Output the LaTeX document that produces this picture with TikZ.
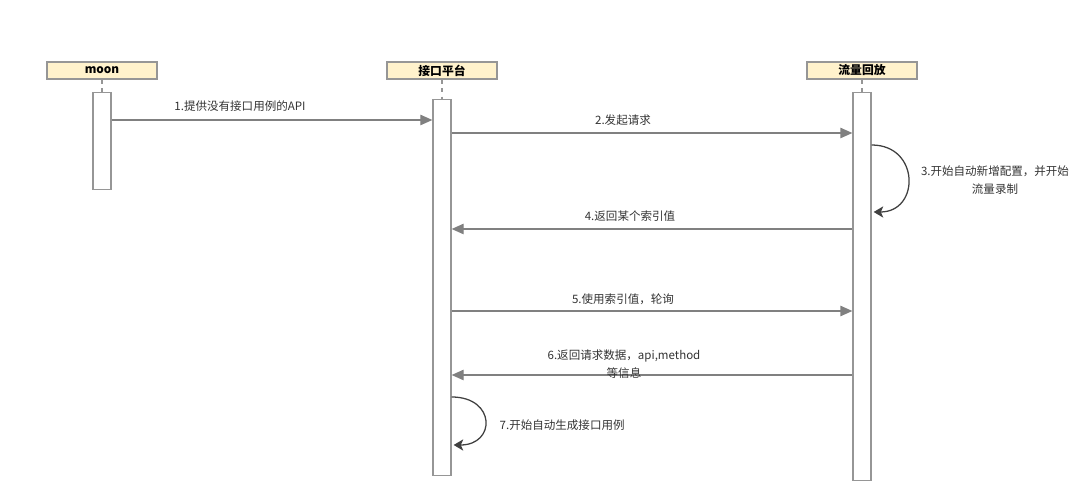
\documentclass[tikz,border=0pt]{standalone}
\usepackage{fontspec}
\setmainfont{Noto Sans CJK SC}
\usetikzlibrary{arrows.meta,positioning,calc}
\definecolor{hdr}{RGB}{255,242,204}
\definecolor{ln}{RGB}{128,128,128}
\definecolor{bx}{RGB}{150,150,150}
\tikzset{
  every node/.style={font=\fontsize{8.2}{13}\selectfont},
  head/.style={draw=bx, fill=hdr, line width=0.9pt, minimum width=2.75cm, minimum height=0.425cm, inner sep=0pt, font=\fontsize{8.4}{10}\selectfont\bfseries},
  act/.style={draw=bx, fill=white, line width=0.9pt, minimum width=0.45cm, inner sep=0pt},
  life/.style={draw=bx, dashed, line width=0.8pt},
  msg/.style={-{Triangle[length=3mm, width=2.6mm]}, ln, line width=0.9pt},
  self/.style={-{Stealth[length=2.4mm, width=2.8mm, inset=0.6mm]}, black!75, line width=0.9pt},
  lab/.style={text=black!80, inner sep=1pt, align=center},
}

\begin{document}
\begin{tikzpicture}[x=0.025cm, y=-0.025cm]
\useasboundingbox (0,0) rectangle (1080,484);

% ---------------------------------------------------------------- lifelines
\node[head] (hm) at (102,70.5) {moon};
\node[head] (hp) at (442,70.5) {接口平台};
\node[head] (hr) at (862,70.5) {流量回放};

\node[act, minimum height=2.425cm, anchor=north] (am) at (102,92) {};
\node[act, minimum height=9.4cm, anchor=north] (ap) at (442,99) {};
\node[act, minimum height=9.7cm, anchor=north] (ar) at (862,92) {};

\draw[life] (hm.south) -- (am.north);
\draw[life] (hp.south) -- (ap.north);
\draw[life] (hr.south) -- (ar.north);

% ---------------------------------------------------------------- message rows
\coordinate (m1) at (0,120);
\coordinate (m2) at (0,133);
\coordinate (m4) at (0,229);
\coordinate (m5) at (0,311);
\coordinate (m6) at (0,375);

\draw[msg] (am.east |- m1) -- (ap.west |- m1);
\node[lab] (l1) at (240,106) {1.提供没有接口用例的API};

\draw[msg] (ap.east |- m2) -- (ar.west |- m2);
\node[lab] (l2) at (623,120) {2.发起请求};

% self call on 流量回放
\coordinate (s3a) at (0,145);
\coordinate (s3b) at (0,212);
\draw[self] (ar.east |- s3a) .. controls (920,145) and (920,212) .. ([xshift=0.05cm]ar.east |- s3b);
\node[lab] (l3) at (995,180) {3.开始自动新增配置，并开始\\流量录制};

\draw[msg] (ar.west |- m4) -- (ap.east |- m4);
\node[lab] (l4) at (630,216) {4.返回某个索引值};

\draw[msg] (ap.east |- m5) -- (ar.west |- m5);
\node[lab] (l5) at (623,299) {5.使用索引值，轮询};

\draw[msg] (ar.west |- m6) -- (ap.east |- m6);
\node[lab] (l6) at (624,364) {6.返回请求数据，api,method\\等信息};

% self call on 接口平台
\coordinate (s7a) at (0,397);
\coordinate (s7b) at (0,445);
\draw[self] (ap.east |- s7a) .. controls (496,397) and (496,445) .. ([xshift=0.05cm]ap.east |- s7b);
\node[lab, anchor=west] (l7) at (498,425) {7.开始自动生成接口用例};

\end{tikzpicture}
\end{document}
